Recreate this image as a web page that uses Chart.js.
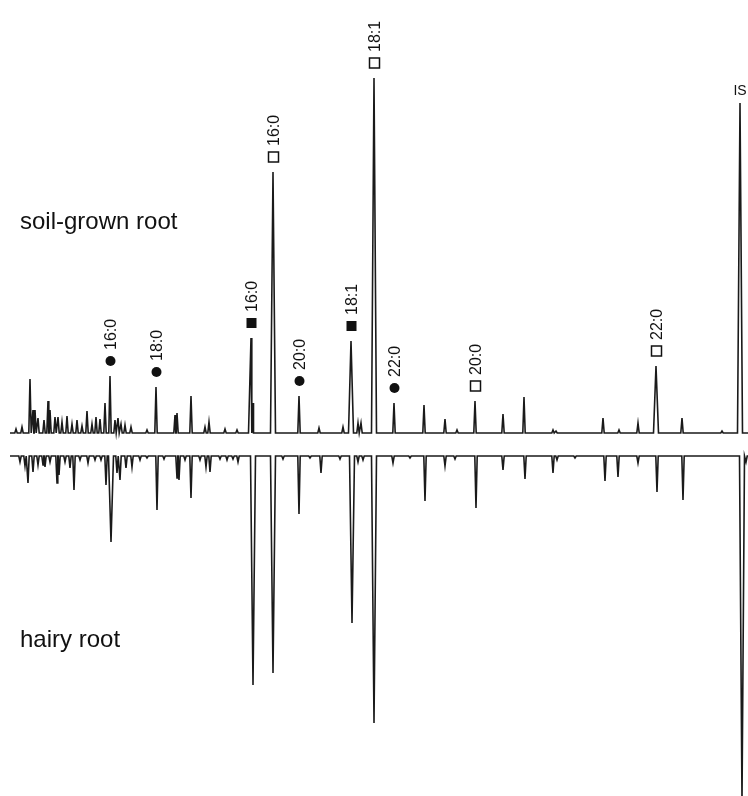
<!DOCTYPE html>
<html>
<head>
<meta charset="utf-8">
<script src="https://cdn.jsdelivr.net/npm/chart.js@4.4.1/dist/chart.umd.min.js"></script>
<style>
  html, body { margin: 0; padding: 0; background: #fff; }
  #wrap { width: 748px; height: 796px; }
</style>
</head>
<body>
<div id="wrap"><canvas id="gc" width="748" height="796"></canvas></div>
<script>
// GC traces of fatty acid methyl esters, mirrored: soil-grown root up, hairy root down
// x = retention (arbitrary units), heights = detector response

const TRACE_START = 10;
const TRACE_END   = 748;

// soil-grown root (upper trace)
const topPeakX = [16, 22, 30, 33, 35, 38, 44, 48, 50, 55, 58, 62, 67, 72, 77, 82, 87, 92, 96, 100,
  105, 110, 115, 118, 121, 125, 131, 147, 156, 175, 177, 191, 205, 209, 225, 237,
  251, 253, 273, 299, 319, 343, 351, 358, 361, 374, 394, 424, 445, 457, 475, 503,
  524, 553, 556, 603, 619, 638, 656, 682, 722, 740];
const topPeakH = [4, 6, 54, 23, 23, 15, 13, 32, 23, 16, 16, 11, 17, 9, 13, 7, 22, 9, 16, 14,
  30, 57, 13, 15, 9, 8, 6, 3, 46, 18, 20, 37, 6, 11, 4, 3,
  95, 30, 261, 37, 5, 6, 92, 10, 10, 355, 30, 28, 14, 3, 32, 19,
  36, 3, 2, 15, 3, 10, 67, 15, 2, 330];

// hairy root (lower trace, drawn downward)
const botPeakX = [20, 25, 28, 33, 38, 43, 45, 50, 57, 59, 65, 70, 74, 80, 88, 95, 101, 106, 111,
  117, 120, 126, 132, 140, 147, 157, 164, 177, 179, 185, 191, 200, 206, 210, 220, 227, 233,
  238, 253, 273, 283, 299, 310, 321, 340, 352, 358, 363, 374, 393, 410, 425, 445, 455, 476,
  503, 525, 553, 557, 575, 605, 618, 638, 657, 683, 742, 746];
const botPeakH = [6, 10, 27, 16, 9, 9, 11, 6, 27, 19, 6, 12, 34, 4, 7, 4, 4, 29, 86,
  17, 24, 12, 11, 4, 2, 54, 3, 22, 24, 4, 42, 4, 11, 16, 3, 4, 3,
  6, 229, 217, 3, 58, 2, 17, 3, 167, 6, 4, 267, 7, 2, 45, 10, 3, 52,
  14, 23, 17, 4, 2, 25, 21, 7, 36, 44, 345, 6];

// peak annotations on the upper trace
const labelX      = [110, 156, 251, 273, 299, 351, 374, 394, 475, 656];
const labelText   = ['16:0', '18:0', '16:0', '16:0', '20:0', '18:1', '18:1', '22:0', '20:0', '22:0'];
const labelMarker = ['circle', 'circle', 'fsquare', 'osquare', 'circle', 'fsquare', 'osquare', 'circle', 'osquare', 'osquare'];
const isX = 740;

const TOP_BASE = 12;
const BOT_BASE = -11;

function buildTrace(xs, hs, base, sign) {
  const pts = [{ x: TRACE_START, y: base }];
  xs.forEach((x, i) => {
    const h = hs[i];
    const w = h > 60 ? 2.5 : 1.2;
    pts.push({ x: x - w, y: base });
    pts.push({ x: x, y: base + sign * h });
    pts.push({ x: x + w, y: base });
  });
  pts.push({ x: TRACE_END, y: base });
  pts.sort((a, b) => a.x - b.x);
  return pts;
}

function peakHeight(xs, hs, x) {
  const i = xs.indexOf(x);
  return i >= 0 ? hs[i] : 0;
}

const annotate = {
  id: 'annotate',
  afterDraw(chart) {
    const { ctx, scales: { x: sx, y: sy } } = chart;
    ctx.save();
    ctx.fillStyle = '#111';
    ctx.strokeStyle = '#111';

    labelX.forEach((lx, i) => {
      const px = Math.round(sx.getPixelForValue(lx)) + 0.5;
      const top = sy.getPixelForValue(TOP_BASE + peakHeight(topPeakX, topPeakH, lx));
      const my = top - 15;
      const kind = labelMarker[i];
      if (kind === 'circle') {
        ctx.beginPath();
        ctx.arc(px, my, 5, 0, Math.PI * 2);
        ctx.fill();
      } else if (kind === 'fsquare') {
        ctx.fillRect(px - 5, my - 5, 10, 10);
      } else {
        ctx.lineWidth = 1.5;
        ctx.strokeRect(px - 5, my - 5, 10, 10);
      }
      ctx.save();
      ctx.translate(px + 1, my - 11);
      ctx.rotate(-Math.PI / 2);
      ctx.font = '16px "Liberation Sans", Arial, sans-serif';
      ctx.textAlign = 'left';
      ctx.textBaseline = 'middle';
      ctx.fillText(labelText[i], 0, 0);
      ctx.restore();
    });

    // internal standard
    const isTop = sy.getPixelForValue(TOP_BASE + peakHeight(topPeakX, topPeakH, isX));
    ctx.font = '14px "Liberation Sans", Arial, sans-serif';
    ctx.textAlign = 'center';
    ctx.textBaseline = 'middle';
    ctx.fillText('IS', sx.getPixelForValue(isX), isTop - 12);

    // trace names
    ctx.font = '24px "Liberation Sans", Arial, sans-serif';
    ctx.textAlign = 'left';
    ctx.fillText('soil-grown root', 20, 222);
    ctx.fillText('hairy root', 20, 640);
    ctx.restore();
  }
};

const trace = {
  type: 'line',
  fill: false,
  borderColor: '#1a1a1a',
  borderWidth: 1.6,
  pointRadius: 0,
  tension: 0,
};

new Chart(document.getElementById('gc'), {
  type: 'line',
  data: {
    datasets: [
      { ...trace, label: 'soil-grown root', data: buildTrace(topPeakX, topPeakH, TOP_BASE, 1) },
      { ...trace, label: 'hairy root', data: buildTrace(botPeakX, botPeakH, BOT_BASE, -1) },
    ],
  },
  options: {
    responsive: false,
    animation: false,
    layout: { padding: 0 },
    plugins: { legend: { display: false }, tooltip: { enabled: false } },
    scales: {
      x: { type: 'linear', min: 0, max: 748, display: false },
      y: { type: 'linear', min: -351, max: 445, display: false },
    },
  },
  plugins: [annotate],
});
</script>
</body>
</html>
